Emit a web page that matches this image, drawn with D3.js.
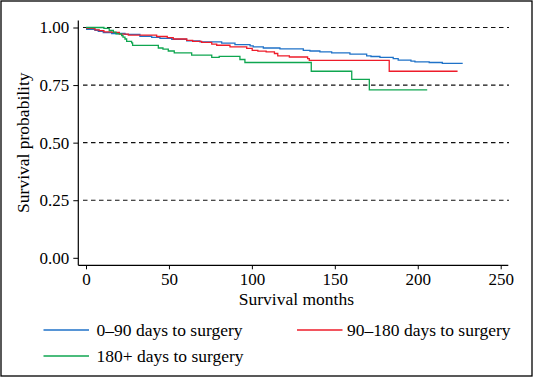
<!DOCTYPE html>
<html><head><meta charset="utf-8">
<script src="https://cdn.jsdelivr.net/npm/d3@7"></script>
<style>
html,body{margin:0;padding:0;background:#fff;}
svg{display:block;}
</style></head>
<body>
<svg id="chart" width="533" height="377"></svg>
<script>
// ---- data ----
const seriesNames = ["0\u201390 days to surgery", "90\u2013180 days to surgery", "180+ days to surgery"];
const seriesColors = ["#1f72c8", "#ee1c2a", "#0fa650"];

const blueTime = [0, 5.4, 7.4, 10.4, 15.5, 23.5, 32.5, 39.6, 44.6, 51.7, 60.7, 68.7, 81.8, 89.8, 98.9, 100.8, 106.9, 116.9, 131, 135, 141, 148.1, 159.1, 169.2, 171.8, 177.2, 185.2, 188.2, 195.9, 198.3, 206.9, 214.8, 227.1];
const blueSurv = [0.992, 0.988, 0.983, 0.978, 0.974, 0.970, 0.962, 0.957, 0.953, 0.949, 0.942, 0.938, 0.932, 0.926, 0.920, 0.916, 0.911, 0.907, 0.901, 0.898, 0.894, 0.890, 0.884, 0.877, 0.874, 0.870, 0.865, 0.858, 0.854, 0.851, 0.848, 0.844, 0.844];

const redTime = [0, 5.4, 8, 10.8, 15.5, 20.1, 25.5, 42.6, 49, 52.6, 60.7, 64.3, 69.7, 75.8, 78.8, 86.8, 96.9, 100.2, 103.6, 108.6, 113.6, 115.6, 122.6, 133.6, 134.6, 182.8, 224];
const redSurv = [0.996, 0.990, 0.986, 0.981, 0.979, 0.971, 0.967, 0.961, 0.956, 0.950, 0.944, 0.940, 0.935, 0.928, 0.923, 0.916, 0.909, 0.901, 0.897, 0.894, 0.887, 0.877, 0.872, 0.865, 0.857, 0.810, 0.810];

const greenTime = [0, 10.8, 14.0, 16.5, 18.1, 21.5, 22.3, 23.5, 24.5, 27.5, 28.1, 43.6, 46.4, 49.6, 53.2, 63.7, 75.8, 80.3, 92.8, 95.8, 135.8, 160.2, 170.8, 205.7];
const greenSurv = [1.0, 0.996, 0.987, 0.980, 0.972, 0.965, 0.958, 0.950, 0.940, 0.933, 0.922, 0.911, 0.906, 0.898, 0.890, 0.880, 0.870, 0.875, 0.861, 0.848, 0.810, 0.775, 0.729, 0.729];

const xTicks = [0, 50, 100, 150, 200, 250];
const yTicks = [0, 0.25, 0.5, 0.75, 1];
const gridValues = [0.25, 0.5, 0.75, 1];

// ---- chart ----
const FONT = '"Liberation Serif"';
const svg = d3.select("#chart");
const x = d3.scaleLinear().domain([0, 250]).range([86, 500.7]);
const y = d3.scaleLinear().domain([0, 1]).range([257.8, 27.5]);
const axisX = 78.3, axisY = 265.3;

function styleText(sel, size) {
  sel.attr("font-family", null).style("font-family", FONT)
     .attr("font-size", null).style("font-size", size + "px")
     .attr("fill", "#000");
}

// outer frame
svg.append("rect").attr("x", 1).attr("y", 1).attr("width", 531).attr("height", 375)
  .attr("fill", "none").attr("stroke", "#000").attr("stroke-width", 1.3);

// gridlines
svg.append("g").selectAll("line").data(gridValues).join("line")
  .attr("x1", 83).attr("x2", 509)
  .attr("y1", d => y(d)).attr("y2", d => y(d))
  .attr("stroke", "#111").attr("stroke-width", 1.1).attr("stroke-dasharray", "4.5,3.5");

// y axis
const gy = svg.append("g").attr("transform", `translate(${axisX},0)`)
  .call(d3.axisLeft(y).tickValues(yTicks).tickFormat(d3.format(".2f")).tickSize(5).tickPadding(4));
gy.attr("font-family", null).attr("font-size", null);
gy.select(".domain").remove();
gy.selectAll("line").attr("stroke", "#000");
styleText(gy.selectAll("text"), 17);
svg.append("line").attr("x1", axisX).attr("x2", axisX).attr("y1", 20.4).attr("y2", axisY)
  .attr("stroke", "#000").attr("stroke-width", 1.2);

// x axis
const gx = svg.append("g").attr("transform", `translate(0,${axisY})`)
  .call(d3.axisBottom(x).tickValues(xTicks).tickFormat(d3.format("d")).tickSize(4).tickPadding(4));
gx.attr("font-family", null).attr("font-size", null);
gx.select(".domain").remove();
gx.selectAll("line").attr("stroke", "#000");
styleText(gx.selectAll("text"), 17);
svg.append("line").attr("x1", axisX).attr("x2", 508.3).attr("y1", axisY).attr("y2", axisY)
  .attr("stroke", "#000").attr("stroke-width", 1.2);

// axis titles
styleText(svg.append("text").attr("x", x(125) + 3).attr("y", 305).attr("text-anchor", "middle")
  .text("Survival months"), 17.5);
styleText(svg.append("text").attr("transform", `translate(29,${y(0.5)}) rotate(-90)`)
  .attr("text-anchor", "middle").text("Survival probability"), 17.5);

// curves
const series = [
  {t: blueTime, s: blueSurv},
  {t: redTime, s: redSurv},
  {t: greenTime, s: greenSurv}
];
const line = d3.line().x(d => x(d[0])).y(d => y(d[1])).curve(d3.curveStepAfter);
series.forEach((sr, i) => {
  const pts = sr.t.map((t, j) => [t, sr.s[j]]);
  svg.append("path").attr("d", line(pts)).attr("fill", "none")
    .attr("stroke", seriesColors[i]).attr("stroke-width", 1.3);
});

// legend
const legendPos = [[43.5, 330, 96.5], [297, 330, 347], [43.5, 356, 96.5]];
seriesNames.forEach((name, i) => {
  const [lx, ly, tx] = legendPos[i];
  svg.append("line").attr("x1", lx).attr("x2", lx + 45.5).attr("y1", ly).attr("y2", ly)
    .attr("stroke", seriesColors[i]).attr("stroke-width", 1.3);
  styleText(svg.append("text").attr("x", tx).attr("y", ly + 5.5).text(name), 17.5);
});
</script>
</body></html>
